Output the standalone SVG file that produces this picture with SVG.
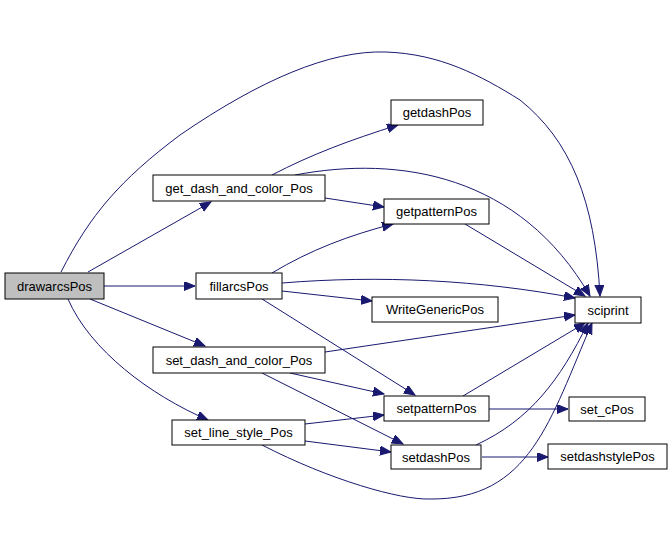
<svg xmlns="http://www.w3.org/2000/svg" width="671" height="533" viewBox="0 0 671 533">
<style>
.n rect{fill:#fff;stroke:#000;stroke-width:1}
.n text{font-family:"Liberation Sans",Arial,sans-serif;font-size:13px;fill:#000;text-anchor:middle}
.e path{fill:none;stroke:#191970;stroke-width:1;marker-end:url(#a)}
</style>
<defs>
<marker id="a" markerUnits="userSpaceOnUse" markerWidth="12" markerHeight="10" refX="11" refY="4.5" orient="auto">
<path d="M0,0 L11,4.5 L0,9 Z" fill="#191970" stroke="#191970"/>
</marker>
</defs>
<rect width="671" height="533" fill="#fff"/>
<g class="e">
<path d="M61,272 C90,215 120,180 180,135 C260,80 330,50 386,52 C440,54 480,75 520,100 C570,140 595,200 600,296"/>
<path d="M88,272 L211,202"/>
<path d="M104,286 L195,286"/>
<path d="M90,299 L205,346"/>
<path d="M68,299 C90,350 150,395 208,420"/>
<path d="M272,175 C310,155 350,140 398,125"/>
<path d="M295,175 C400,155 520,175 590,296"/>
<path d="M325,198 L384,207"/>
<path d="M465,224 L585,296"/>
<path d="M272,273 C310,250 350,235 393,224"/>
<path d="M282,283 C380,275 480,280 575,298"/>
<path d="M282,291 L372,301"/>
<path d="M262,299 L415,395"/>
<path d="M325,352 L575,315"/>
<path d="M290,373 L384,394"/>
<path d="M262,373 L403,444"/>
<path d="M305,424 L384,415"/>
<path d="M305,441 L391,452"/>
<path d="M262,445 C330,480 400,500 430,499 C530,500 550,420 592,323"/>
<path d="M463,396 L585,323"/>
<path d="M489,409 L568,409"/>
<path d="M476,445 C530,420 560,380 588,323"/>
<path d="M482,457 L548,457"/>
</g>
<g id="drawarcsPos" class="n"><rect x="5" y="273" width="99" height="26" style="fill:#bfbfbf"/><text x="54.5" y="290.5">drawarcsPos</text></g>
<g id="get_dash_and_color_Pos" class="n"><rect x="153" y="175" width="172" height="26"/><text x="239" y="192.5">get_dash_and_color_Pos</text></g>
<g id="getdashPos" class="n"><rect x="391" y="100" width="92" height="25"/><text x="437" y="117">getdashPos</text></g>
<g id="getpatternPos" class="n"><rect x="384" y="199" width="105" height="25"/><text x="436.5" y="216">getpatternPos</text></g>
<g id="fillarcsPos" class="n"><rect x="196" y="273" width="86" height="26"/><text x="239" y="290.5">fillarcsPos</text></g>
<g id="WriteGenericPos" class="n"><rect x="372" y="297" width="126" height="25"/><text x="435" y="314">WriteGenericPos</text></g>
<g id="sciprint" class="n"><rect x="575" y="297" width="66" height="26"/><text x="608" y="314.5">sciprint</text></g>
<g id="set_dash_and_color_Pos" class="n"><rect x="153" y="347" width="172" height="26"/><text x="239" y="364.5">set_dash_and_color_Pos</text></g>
<g id="setpatternPos" class="n"><rect x="384" y="396" width="105" height="25"/><text x="436.5" y="413">setpatternPos</text></g>
<g id="set_cPos" class="n"><rect x="569" y="397" width="76" height="24"/><text x="607" y="413.5">set_cPos</text></g>
<g id="set_line_style_Pos" class="n"><rect x="172" y="420" width="133" height="25"/><text x="238.5" y="437">set_line_style_Pos</text></g>
<g id="setdashPos" class="n"><rect x="391" y="445" width="90" height="24"/><text x="436" y="461.5">setdashPos</text></g>
<g id="setdashstylePos" class="n"><rect x="548" y="444" width="119" height="25"/><text x="607.5" y="461">setdashstylePos</text></g>
</svg>
